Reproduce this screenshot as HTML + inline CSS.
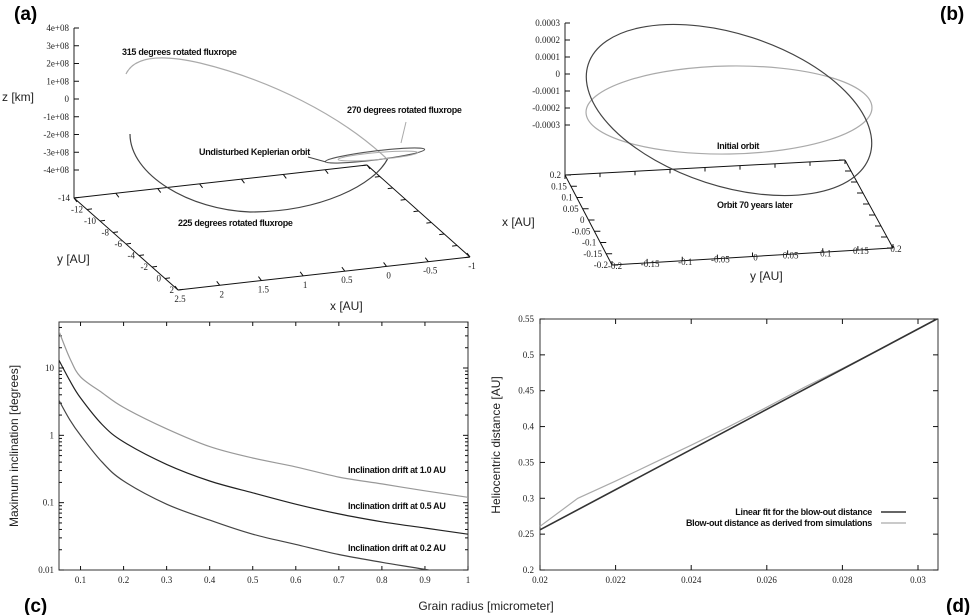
<!DOCTYPE html>
<html><head><meta charset="utf-8"><style>
body{margin:0;background:#fff;}
svg{display:block;font-family:"Liberation Sans",sans-serif;}
.tk{font-family:"Liberation Serif",serif;font-size:9px;fill:#222;}
.lb{font-size:9px;font-weight:bold;fill:#111;letter-spacing:-0.3px;}
.ax{font-size:12px;fill:#222;}
.pl{font-size:19px;font-weight:bold;fill:#000;}
</style></head><body>
<svg id="fig" width="972" height="615" viewBox="0 0 972 615">
<g id="pa"></g>
<g id="pb"></g>
<g id="pc"></g>
<g id="pd"></g>
<text class="pl" x="14" y="20">(a)</text>
<text class="pl" x="940" y="20">(b)</text>
<text class="pl" x="24" y="612">(c)</text>
<text class="pl" x="946" y="612">(d)</text>
<text class="ax" x="486" y="610" text-anchor="middle">Grain radius [micrometer]</text>
</svg>
<script>
// ---------- Panel c data ----------
const cX = [0.05,0.075,0.1,0.15,0.2,0.3,0.4,0.5,0.6,0.7,0.8,0.9,1.0];
const c10AU = [35,14,7.4,4.3,2.6,1.25,0.68,0.46,0.34,0.24,0.19,0.15,0.12];
const c05AU = [13,6.5,3.6,1.45,0.8,0.37,0.21,0.14,0.095,0.068,0.052,0.042,0.034];
const c02AU = [3.3,1.7,1.0,0.4,0.21,0.095,0.055,0.034,0.024,0.017,0.013,0.0102,0.0078];
const cXTicks = [0.1,0.2,0.3,0.4,0.5,0.6,0.7,0.8,0.9,1];
const cYTicks = [0.01,0.1,1,10];
// ---------- Panel d data ----------
const dFitX = [0.02,0.0305];
const dFitY = [0.256,0.55];
const dSimX = [0.02,0.021,0.022,0.023,0.024,0.025,0.026,0.027,0.028,0.029,0.030,0.0305];
const dSimY = [0.261,0.300,0.324,0.349,0.374,0.400,0.427,0.455,0.481,0.508,0.536,0.550];
const dXTicks = [0.02,0.022,0.024,0.026,0.028,0.03];
const dXLabels = ["0.02","0.022","0.024","0.026","0.028","0.03"];
const dYTicks = [0.2,0.25,0.3,0.35,0.4,0.45,0.5,0.55];
// ---------- Panel a/b tick data ----------
const aZTicks = [4,3,2,1,0,-1,-2,-3,-4];
const aYTicks = [-14,-12,-10,-8,-6,-4,-2,0,2];
const aXTicks = [2.5,2,1.5,1,0.5,0,-0.5,-1];
const bZTicks = [0.0003,0.0002,0.0001,0,-0.0001,-0.0002,-0.0003];
const bXTicks = [0.2,0.15,0.1,0.05,0,-0.05,-0.1,-0.15,-0.2];
const bYTicks = [-0.2,-0.15,-0.1,-0.05,0,0.05,0.1,0.15,0.2];

const NS="http://www.w3.org/2000/svg";
function mk(parent,tag,attrs,txt){const e=document.createElementNS(NS,tag);for(const k in attrs)e.setAttribute(k,attrs[k]);if(txt!==undefined)e.textContent=txt;parent.appendChild(e);return e;}
function line(p,x1,y1,x2,y2,st,w){return mk(p,'line',{x1,y1,x2,y2,stroke:st||'#111','stroke-width':w||1});}
function smooth(pts){let d='M'+pts[0][0].toFixed(1)+','+pts[0][1].toFixed(1);
 for(let i=0;i<pts.length-1;i++){const p0=pts[i-1]||pts[i],p1=pts[i],p2=pts[i+1],p3=pts[i+2]||p2;
  const c1=[p1[0]+(p2[0]-p0[0])/6,p1[1]+(p2[1]-p0[1])/6],c2=[p2[0]-(p3[0]-p1[0])/6,p2[1]-(p3[1]-p1[1])/6];
  d+='C'+c1[0].toFixed(1)+','+c1[1].toFixed(1)+' '+c2[0].toFixed(1)+','+c2[1].toFixed(1)+' '+p2[0].toFixed(1)+','+p2[1].toFixed(1);}
 return d;}

// ===== Panel c =====
(function(){
const g=document.getElementById('pc');
const L=59,R=468,T=322,B=570;
const xs=v=>L+(v-0.05)/(0.95)*(R-L);
const dec=(570-368)/3;
const ys=v=>B-(Math.log10(v)+2)*dec;
const fr=mk(g,'rect',{x:L,y:T,width:R-L,height:B-T,fill:'none',stroke:'#333','stroke-width':1});


cXTicks.forEach(v=>{const x=xs(v);line(g,x,B,x,B-4);line(g,x,T,x,T+4);
 const t=mk(g,'text',{class:'tk',x:x,y:B+13,'text-anchor':'middle'},String(v));
 });
cYTicks.forEach(v=>{const y=ys(v);line(g,L,y,L+5,y);line(g,R,y,R-5,y);
 for(let k=2;k<10;k++){const yy=ys(v*k);if(yy>T){line(g,L,yy,L+3,yy);line(g,R,yy,R-3,yy);}}
 const t=mk(g,'text',{class:'tk',x:L-5,y:y+3,'text-anchor':'end'},String(v));
 });
const cp=mk(g,'clipPath',{id:'cc'});mk(cp,'rect',{x:L,y:T,width:R-L,height:B-T});
function curve(arr,col,name){
 const pts=cX.map((x,i)=>[xs(x),ys(arr[i])]);
 const p=mk(g,'path',{d:smooth(pts),fill:'none',stroke:col,'stroke-width':1.2,'clip-path':'url(#cc)'});
 }
curve(c10AU,'#999','curve-1-0-au');curve(c05AU,'#222','curve-0-5-au');curve(c02AU,'#444','curve-0-2-au');
[['Inclination drift at 1.0 AU',0.275],['Inclination drift at 0.5 AU',0.081],['Inclination drift at 0.2 AU',0.0193]].forEach(a=>{
 const t=mk(g,'text',{class:'lb',x:348,y:ys(a[1]),'font-size':'8'},a[0]);
 });
const yl=mk(g,'text',{class:'ax',x:0,y:0,'text-anchor':'middle',transform:'translate(18,446) rotate(-90)'},'Maximum inclination [degrees]');

})();

// ===== Panel d =====
(function(){
const g=document.getElementById('pd');
const L=540,R=938,T=319,B=570;
const xs=v=>L+(v-0.02)/0.001*37.8;
const ys=v=>B-(v-0.2)/0.35*(B-T);
const fr=mk(g,'rect',{x:L,y:T,width:R-L,height:B-T,fill:'none',stroke:'#333','stroke-width':1});

dXTicks.forEach((v,i)=>{const x=xs(v);line(g,x,B,x,B-5);line(g,x,T,x,T+5);
 const t=mk(g,'text',{class:'tk',x:x,y:B+13,'text-anchor':'middle'},dXLabels[i]);
 });
dYTicks.forEach(v=>{const y=ys(v);line(g,L,y,L+5,y);line(g,R,y,R-5,y);
 const t=mk(g,'text',{class:'tk',x:L-6,y:y+3,'text-anchor':'end'},String(v));
 });
function pl(X,Y,col,w,name){let d='';X.forEach((x,i)=>{d+=(i?'L':'M')+xs(x).toFixed(1)+','+ys(Y[i]).toFixed(1);});
 const p=mk(g,'path',{d:d,fill:'none',stroke:col,'stroke-width':w});
 }
pl(dSimX,dSimY,'#aaa',1.2,'series-simulation');
pl(dFitX,dFitY,'#333',1.6,'series-linear-fit');
line(g,881,512,906,512,'#333',1.6);
line(g,881,523,906,523,'#aaa',1.2);
let t=mk(g,'text',{class:'lb',x:872,y:515,'text-anchor':'end','font-size':'8'},'Linear fit for the blow-out distance');

t=mk(g,'text',{class:'lb',x:872,y:526,'text-anchor':'end','font-size':'8'},'Blow-out distance as derived from simulations');

const yl=mk(g,'text',{class:'ax',x:0,y:0,'text-anchor':'middle',transform:'translate(500,445) rotate(-90)'},'Heliocentric distance [AU]');

})();

// ===== Panel a =====
(function(){
const g=document.getElementById('pa');
const zx=74, zTop=28, zStep=17.75;
line(g,zx,zTop,zx,198,'#222');
aZTicks.forEach((v,i)=>{const y=zTop+i*zStep;line(g,zx,y,zx+5,y);
 const t=mk(g,'text',{class:'tk',x:zx-5,y:y+3,'text-anchor':'end'},v===0?'0':(v+'e+08'));
 });
const BL=[74,198],BR=[367,165],FR=[470,257],FL=[178,290];
[[BL,BR],[BR,FR],[FR,FL],[FL,BL]].forEach(e=>line(g,e[0][0],e[0][1],e[1][0],e[1][1],'#111'));
const lerp=(a,b,f)=>[a[0]+(b[0]-a[0])*f,a[1]+(b[1]-a[1])*f];
aYTicks.forEach((v,i)=>{const f=i/(aYTicks.length-1);const p=lerp(BL,FL,f);const q=lerp(BR,FR,f);
 line(g,p[0],p[1],p[0]+5,p[1]-0.6);line(g,q[0],q[1],q[0]-5,q[1]+0.6);
 const t=mk(g,'text',{class:'tk',x:p[0]-4,y:p[1]+3,'text-anchor':'end'},String(v));
 });
aXTicks.forEach((v,i)=>{const f=(2.5-v)/3.5;const p=lerp(FL,FR,f);const q=lerp(BL,BR,f);
 line(g,p[0],p[1],p[0]-3,p[1]-4);line(g,q[0],q[1],q[0]+3,q[1]+4);
 const t=mk(g,'text',{class:'tk',x:p[0]+2,y:p[1]+12,'text-anchor':'middle'},String(v));
 });
let p=mk(g,'path',{d:'M126,74 C135,55 165,55 200,63 C270,80 340,115 386,158',fill:'none',stroke:'#aaa','stroke-width':1.2});

p=mk(g,'path',{d:'M130,134 C130,175 190,210 250,212 C320,212 375,185 388,158',fill:'none',stroke:'#444','stroke-width':1.2});

p=mk(g,'ellipse',{cx:375,cy:155.5,rx:50,ry:4.5,fill:'none',stroke:'#555','stroke-width':1.1,transform:'rotate(-7 375 155.5)'});

p=mk(g,'ellipse',{cx:378,cy:156,rx:40,ry:3.5,fill:'none',stroke:'#aaa','stroke-width':1,transform:'rotate(-5 378 156)'});

line(g,308,157,326,162,'#444');line(g,406,122,401,143,'#aaa');
[['315 degrees rotated fluxrope',122,55],['270 degrees rotated fluxrope',347,113],['Undisturbed Keplerian orbit',199,155],['225 degrees rotated fluxrope',178,226]].forEach(a=>{
 const t=mk(g,'text',{class:'lb',x:a[1],y:a[2]},a[0]);});
let t=mk(g,'text',{class:'ax',x:2,y:101},'z [km]');
t=mk(g,'text',{class:'ax',x:57,y:263},'y [AU]');
t=mk(g,'text',{class:'ax',x:330,y:310},'x [AU]');
})();

// ===== Panel b =====
(function(){
const g=document.getElementById('pb');
const zx=565, zTop=23, zStep=17;
line(g,zx,zTop,zx,175,'#222');
bZTicks.forEach((v,i)=>{const y=zTop+i*zStep;line(g,zx,y,zx+5,y);
 const t=mk(g,'text',{class:'tk',x:zx-5,y:y+3,'text-anchor':'end'},String(v));
 });
const BL=[565,175],BR=[845,160],FR=[893,248],FL=[612,265];
[[BL,BR],[BR,FR],[FR,FL],[FL,BL]].forEach(e=>line(g,e[0][0],e[0][1],e[1][0],e[1][1],'#111'));
const lerp=(a,b,f)=>[a[0]+(b[0]-a[0])*f,a[1]+(b[1]-a[1])*f];
bXTicks.forEach((v,i)=>{const f=i/(bXTicks.length-1);const p=lerp(BL,FL,f);const q=lerp(BR,FR,f);
 line(g,p[0],p[1],p[0]+6,p[1]);line(g,q[0],q[1],q[0]-6,q[1]);
 const t=mk(g,'text',{class:'tk',x:p[0]-4,y:p[1]+3,'text-anchor':'end'},String(v));
 });
bYTicks.forEach((v,i)=>{const f=i/(bYTicks.length-1);const p=lerp(FL,FR,f);const q=lerp(BL,BR,f);
 line(g,p[0],p[1],p[0],p[1]-4);line(g,q[0],q[1],q[0],q[1]+4);
 const t=mk(g,'text',{class:'tk',x:p[0]+3,y:p[1]+4,'text-anchor':'middle'},String(v));
 });
let p=mk(g,'ellipse',{cx:729,cy:110,rx:143,ry:44,fill:'none',stroke:'#aaa','stroke-width':1.2,transform:'rotate(-1 729 110)'});

p=mk(g,'ellipse',{cx:729,cy:110,rx:148,ry:76,fill:'none',stroke:'#444','stroke-width':1.2,transform:'rotate(18 729 110)'});

let t=mk(g,'text',{class:'lb',x:717,y:149},'Initial orbit');
t=mk(g,'text',{class:'lb',x:717,y:208},'Orbit 70 years later');
t=mk(g,'text',{class:'ax',x:502,y:226},'x [AU]');
t=mk(g,'text',{class:'ax',x:750,y:280},'y [AU]');
})();
</script>
</body></html>
